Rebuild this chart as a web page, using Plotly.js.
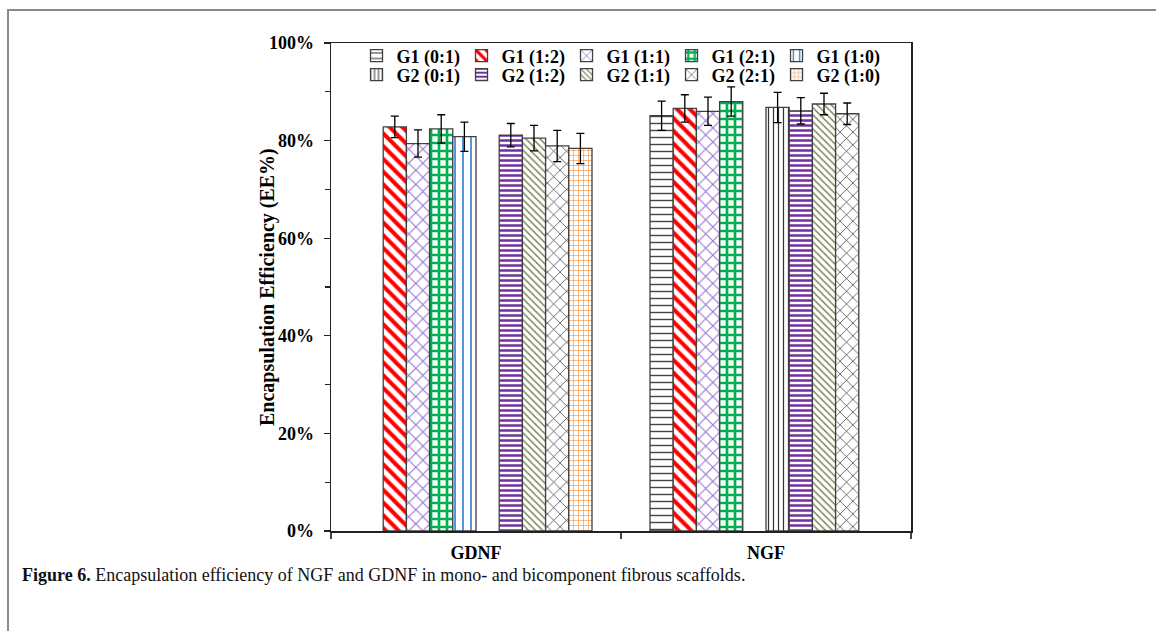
<!DOCTYPE html>
<html>
<head>
<meta charset="utf-8">
<script src="https://cdn.plot.ly/plotly-3.0.1.min.js"></script>
<style>
  html, body { margin: 0; padding: 0; background: #fff; }
  #wrap { position: relative; width: 1156px; height: 631px; overflow: hidden; }
  #chart { position: absolute; left: 0; top: 0; width: 1156px; height: 631px; }
  #frame { position: absolute; left: 7px; top: 9px; width: 1160px; height: 640px;
           border-top: 2px solid #8a8a8a; border-left: 2px solid #8a8a8a; pointer-events: none; }
  #caption { position: absolute; left: 22px; top: 566px; font-family: "Liberation Serif", serif;
             font-size: 18px; line-height: 18px; color: #111; white-space: nowrap; }
</style>
</head>
<body>
<div id="wrap">
  <div id="chart"></div>
  <div id="frame"></div>
  <div id="caption"><b>Figure 6.</b> Encapsulation efficiency of NGF and GDNF in mono- and bicomponent fibrous scaffolds.</div>
</div>
<script>
// ---- data ----
const categories = ['GDNF', 'NGF'];
const seriesNames = ['G1 (0:1)', 'G1 (1:2)', 'G1 (1:1)', 'G1 (2:1)', 'G1 (1:0)',
                     'G2 (0:1)', 'G2 (1:2)', 'G2 (1:1)', 'G2 (2:1)', 'G2 (1:0)'];
const g1_01 = [null, 85.1];
const g1_12 = [82.8, 86.6];
const g1_11 = [79.4, 86.0];
const g1_21 = [82.4, 88.0];
const g1_10 = [80.8, null];
const g2_01 = [null, 86.8];
const g2_12 = [81.1, 86.1];
const g2_11 = [80.5, 87.5];
const g2_21 = [78.9, 85.5];
const g2_10 = [78.4, null];
const err_g1_01 = [0, 3.0];
const err_g1_12 = [2.2, 2.8];
const err_g1_11 = [2.8, 2.9];
const err_g1_21 = [2.9, 3.0];
const err_g1_10 = [3.0, 0];
const err_g2_01 = [0, 3.1];
const err_g2_12 = [2.4, 2.7];
const err_g2_11 = [2.6, 2.2];
const err_g2_21 = [3.2, 2.2];
const err_g2_10 = [3.1, 0];
const yTicks = [0, 20, 40, 60, 80, 100];
const yTickText = ['0%', '20%', '40%', '60%', '80%', '100%'];

const values = [g1_01, g1_12, g1_11, g1_21, g1_10, g2_01, g2_12, g2_11, g2_21, g2_10];
const errors = [err_g1_01, err_g1_12, err_g1_11, err_g1_21, err_g1_10,
                err_g2_01, err_g2_12, err_g2_11, err_g2_21, err_g2_10];

// ---- styles ----
const patterns = [
  {shape: '-',  fgcolor: '#444444', size: 7, solidity: 0.2},
  {shape: '\\', fgcolor: '#ff0000', size: 9, solidity: 0.45},
  {shape: 'x',  fgcolor: '#9b6fd0', size: 10, solidity: 0.2},
  {shape: '+',  fgcolor: '#00b050', size: 8, solidity: 0.55},
  {shape: '|',  fgcolor: '#2a7fd0', size: 8, solidity: 0.2},
  {shape: '|',  fgcolor: '#333333', size: 5, solidity: 0.25},
  {shape: '-',  fgcolor: '#7030a0', size: 5, solidity: 0.5},
  {shape: '\\', fgcolor: '#7f8a60', size: 5, solidity: 0.3},
  {shape: 'x',  fgcolor: '#333333', size: 9, solidity: 0.15},
  {shape: '+',  fgcolor: '#f79646', size: 5, solidity: 0.25}
];

const traces = seriesNames.map((name, i) => ({
  type: 'bar',
  name: name,
  x: categories,
  y: values[i],
  legend: i < 5 ? 'legend' : 'legend2',
  marker: {
    color: '#ffffff',
    line: {color: '#404040', width: 1.3},
    pattern: Object.assign({bgcolor: '#ffffff', fgopacity: 1, fillmode: 'replace'}, patterns[i])
  },
  error_y: {type: 'data', array: errors[i], visible: true, color: '#000000', thickness: 1.3, width: 4}
}));

const serif = 'Liberation Serif, Times New Roman, serif';
const legendBase = {
  orientation: 'h', x: 0.044, xanchor: 'left', yanchor: 'middle',
  entrywidth: 60, entrywidthmode: 'pixels', itemwidth: 30,
  font: {family: serif, size: 18, color: '#000', weight: 700},
  bgcolor: 'rgba(0,0,0,0)', tracegroupgap: 0
};

const layout = {
  width: 1156, height: 631,
  margin: {l: 331, r: 245, t: 43, b: 100, pad: 0},
  paper_bgcolor: '#ffffff', plot_bgcolor: '#ffffff',
  barmode: 'group', bargap: 0.2, bargroupgap: 0,
  showlegend: true,
  legend: Object.assign({}, legendBase, {y: 0.9734}),
  legend2: Object.assign({}, legendBase, {y: 0.9344}),
  xaxis: {
    type: 'category',
    showline: true, linecolor: '#222', linewidth: 1.5, mirror: true,
    ticks: 'outside', tickson: 'boundaries', ticklen: 6, tickcolor: '#444', tickwidth: 1.3,
    ticklabelstandoff: 5,
    tickfont: {family: serif, size: 18, color: '#000', weight: 700},
    showgrid: false, zeroline: false
  },
  yaxis: {
    range: [0, 100], tickvals: yTicks, ticktext: yTickText,
    showline: true, linecolor: '#222', linewidth: 1.5, mirror: true,
    ticks: 'outside', ticklen: 6, tickcolor: '#222', tickwidth: 1.3,
    ticklabelstandoff: 6,
    minor: {dtick: 10, ticks: 'outside', ticklen: 5, tickcolor: '#222', tickwidth: 1.2, showgrid: false},
    tickfont: {family: serif, size: 18, color: '#000', weight: 700},
    showgrid: false, zeroline: false, fixedrange: true
  },
  annotations: [{
    text: 'Encapsulation Efficiency (EE%)', textangle: -90,
    xref: 'paper', yref: 'paper', x: -0.1103, y: 0.5, xanchor: 'center', yanchor: 'middle',
    showarrow: false, font: {family: serif, size: 20, color: '#000', weight: 700}
  }]
};

Plotly.newPlot('chart', traces, layout, {displayModeBar: false, staticPlot: true});
</script>
</body>
</html>
